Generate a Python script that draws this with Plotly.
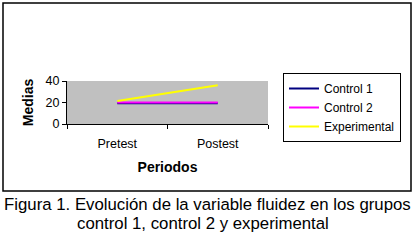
import plotly.graph_objects as go

periods = ["Pretest", "Postest"]
control1 = [19.2, 19.2]
control2 = [20, 20]
experimental = [21.5, 36]
series_names = ["Control 1", "Control 2", "Experimental"]
series_colors = ["#000080", "#FF00FF", "#FFFF00"]
caption_lines = ["Figura 1. Evolución de la variable fluidez en los grupos",
                 "control 1, control 2 y experimental"]

W, H = 415, 240
L, R, T, B = 67, 268, 81, 124  # plot area in pixels


def px(x):
    return (x - L) / (R - L)


def py(y):
    return (B - y) / (B - T)


fig = go.Figure()
for name, vals, col in zip(series_names, [control1, control2, experimental], series_colors):
    fig.add_trace(go.Scatter(x=periods, y=vals, mode="lines", name=name,
                             line=dict(color=col, width=2)))

font = "Liberation Sans, Arial, sans-serif"
fig.update_layout(
    width=W, height=H,
    margin=dict(l=L, r=W - R, t=T, b=H - B, pad=0),
    paper_bgcolor="white", plot_bgcolor="#C0C0C0",
    font=dict(family=font, size=12.5, color="black"),
    showlegend=True,
    legend=dict(x=px(283), y=py(73), xanchor="left", yanchor="top",
                bgcolor="white", bordercolor="black", borderwidth=1,
                font=dict(size=12, family=font), tracegroupgap=0),
    xaxis=dict(type="category", range=[-0.5, 1.5], tickson="boundaries",
               ticks="outside", ticklen=4, tickcolor="black", showline=True,
               linecolor="black", linewidth=1, showgrid=False,
               tickfont=dict(size=12.5), ticklabelstandoff=8,
               title=dict(text="<b>Periodos</b>", font=dict(size=14), standoff=12)),
    yaxis=dict(range=[0, 40], dtick=20, ticks="outside", ticklen=4,
               tickcolor="black", showline=True, linecolor="black", linewidth=1,
               showgrid=False, zeroline=False, tickfont=dict(size=12.5),
               title=dict(text="<b>Medias</b>", font=dict(size=14), standoff=8)),
)

# outer frame of the chart
fig.add_shape(type="rect", xref="paper", yref="paper",
              x0=px(3), x1=px(411), y0=py(191), y1=py(3),
              line=dict(color="black", width=1.5), fillcolor="rgba(0,0,0,0)", layer="below")

for text, xc, yc in zip(caption_lines, [207, 203], [204, 223]):
    fig.add_annotation(text=text, xref="paper", yref="paper", x=px(xc), y=py(yc),
                       xanchor="center", yanchor="middle", showarrow=False,
                       font=dict(size=16.8, family=font, color="black"))

fig.write_html("out.html", config={"displayModeBar": False},
               post_script="document.body.style.margin='0';")
